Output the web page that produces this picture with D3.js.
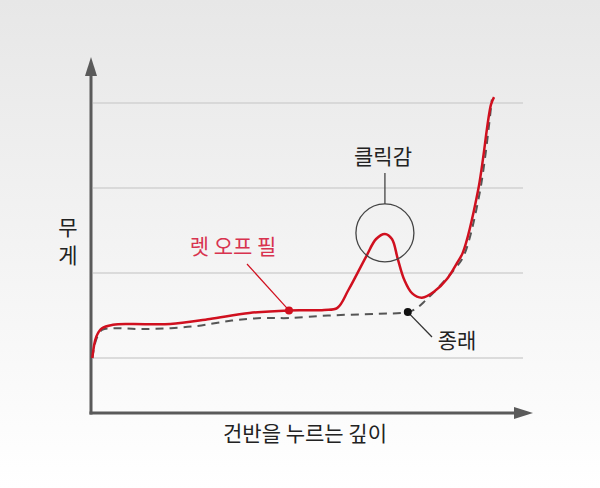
<!DOCTYPE html>
<html>
<head>
<meta charset="utf-8">
<script src="https://cdn.jsdelivr.net/npm/d3@7"></script>
<style>
  html, body { margin: 0; padding: 0; }
  body { width: 600px; height: 488px; overflow: hidden; }
  text { font-family: "Noto Sans CJK KR", "Noto Sans", sans-serif; }
</style>
</head>
<body>
<div id="chart"></div>
<script>
"use strict";

// depth (0..10) / weight (grid at 1..4)
const gridValues = [1, 2, 3, 4];

const letOffFeel = [
  [0.03, 1.0], [0.12, 1.25], [0.25, 1.35], [0.5, 1.39], [0.9, 1.40], [1.8, 1.40],
  [2.7, 1.46], [3.6, 1.53], [4.5, 1.56], [5.3, 1.565], [5.6, 1.59], [5.85, 1.80],
  [6.25, 2.19], [6.48, 2.40], [6.68, 2.46], [6.84, 2.40], [6.97, 2.17], [7.12, 1.92],
  [7.3, 1.76], [7.52, 1.71], [7.82, 1.79], [8.09, 1.93], [8.32, 2.12], [8.45, 2.24],
  [8.8, 2.98], [9.09, 3.98], [9.16, 4.07]
];

const conventional = [
  [0.03, 1.0], [0.12, 1.22], [0.25, 1.33], [0.5, 1.35], [1.2, 1.34], [2.3, 1.37],
  [3.2, 1.44], [3.9, 1.47], [4.5, 1.47], [5.4, 1.50], [6.5, 1.52], [7.2, 1.54],
  [7.41, 1.59], [7.59, 1.67], [7.93, 1.85], [8.27, 2.05], [8.47, 2.2], [8.84, 2.96],
  [9.11, 4.04]
];

const letOffPoint = [4.5, 1.56];
const clickPoint = [6.68, 2.46];
const conventionalPoint = [7.2, 1.54];

const width = 600, height = 488;
const red = '#d0101f';
const axisColor = '#5a5a5a';

const x = d3.scaleLinear().domain([0, 10]).range([91, 531]);
const y = d3.scaleLinear().domain([0, 4]).range([443, 103]);
const axisY = 413;

const svg = d3.select('#chart')
  .append('svg')
  .attr('width', width)
  .attr('height', height);

let grad = svg.append('defs')
  .append('linearGradient')
  .attr('id', 'bg')
  .attr('x1', 0).attr('y1', 0)
  .attr('x2', 0).attr('y2', 1);
grad.append('stop').attr('offset', '0%').attr('stop-color', '#e7e7e7');
grad.append('stop').attr('offset', '100%').attr('stop-color', '#ffffff');

svg.append('rect')
  .attr('width', width)
  .attr('height', height)
  .attr('fill', 'url(#bg)');

// grid
svg.selectAll('.grid')
  .data(gridValues)
  .enter()
  .append('line')
  .classed('grid', true)
  .attr('x1', x(0) + 2)
  .attr('x2', 523)
  .attr('y1', d => y(d))
  .attr('y2', d => y(d))
  .attr('stroke', '#d2d2d2')
  .attr('stroke-width', 1.5);

// axes
svg.append('line')
  .attr('x1', x(0)).attr('y1', axisY + 1.5)
  .attr('x2', x(0)).attr('y2', 72)
  .attr('stroke', axisColor)
  .attr('stroke-width', 3);
svg.append('path')
  .attr('d', `M${x(0)},57 L${x(0) - 6},76 L${x(0) + 6},76 Z`)
  .attr('fill', axisColor);

svg.append('line')
  .attr('x1', x(0) - 1.5).attr('y1', axisY)
  .attr('x2', 518).attr('y2', axisY)
  .attr('stroke', axisColor)
  .attr('stroke-width', 3);
svg.append('path')
  .attr('d', `M533,${axisY} L514,${axisY - 6} L514,${axisY + 6} Z`)
  .attr('fill', axisColor);

// curves
const line = d3.line()
  .x(d => x(d[0]))
  .y(d => y(d[1]))
  .curve(d3.curveCatmullRom.alpha(0.5));

svg.append('path')
  .datum(conventional)
  .attr('d', line)
  .attr('fill', 'none')
  .attr('stroke', '#555')
  .attr('stroke-width', 2)
  .attr('stroke-dasharray', '8,6');

svg.append('path')
  .datum(letOffFeel)
  .attr('d', line)
  .attr('fill', 'none')
  .attr('stroke', red)
  .attr('stroke-width', 2.5);

// annotations
svg.append('line')
  .attr('x1', 247).attr('y1', 264)
  .attr('x2', x(letOffPoint[0])).attr('y2', y(letOffPoint[1]))
  .attr('stroke', red)
  .attr('stroke-width', 1.2);
svg.append('circle')
  .attr('cx', x(letOffPoint[0]))
  .attr('cy', y(letOffPoint[1]))
  .attr('r', 4)
  .attr('fill', red);

svg.append('circle')
  .attr('cx', x(clickPoint[0]))
  .attr('cy', y(clickPoint[1]) - 1)
  .attr('r', 29)
  .attr('fill', 'none')
  .attr('stroke', '#444')
  .attr('stroke-width', 1.3);
svg.append('line')
  .attr('x1', x(clickPoint[0])).attr('y1', y(clickPoint[1]) - 30)
  .attr('x2', x(clickPoint[0])).attr('y2', 173)
  .attr('stroke', '#444')
  .attr('stroke-width', 1.3);

svg.append('line')
  .attr('x1', x(conventionalPoint[0])).attr('y1', y(conventionalPoint[1]))
  .attr('x2', 432).attr('y2', 337)
  .attr('stroke', '#333')
  .attr('stroke-width', 1.3);
svg.append('circle')
  .attr('cx', x(conventionalPoint[0]))
  .attr('cy', y(conventionalPoint[1]))
  .attr('r', 4)
  .attr('fill', '#111');

// labels
function label(text, px, py, color, size)
{
  return svg.append('text')
    .attr('x', px)
    .attr('y', py)
    .attr('text-anchor', 'middle')
    .attr('dominant-baseline', 'central')
    .attr('fill', color)
    .style('font-size', size + 'px')
    .text(text);
}

label('건반을 누르는 깊이', 305, 432, '#222', 21);
label('무', 68, 226, '#222', 21);
label('게', 68, 254, '#222', 21);
label('렛 오프 필', 233, 245, '#d8334f', 21);
label('클릭감', 383, 155, '#222', 21);
label('종래', 457, 339, '#222', 21);
</script>
</body>
</html>
